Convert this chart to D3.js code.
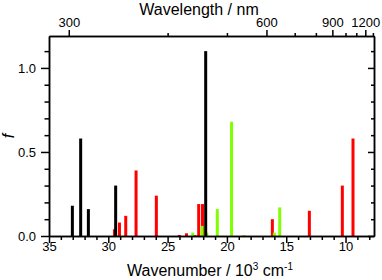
<!DOCTYPE html>
<html>
<head>
<meta charset="utf-8">
<script src="https://cdn.jsdelivr.net/npm/d3@7"></script>
<style>
  body { margin: 0; background: #fff; }
  svg { display: block; font-family: "Liberation Sans", Arial, sans-serif; }
  .axis path, .axis line { stroke: #000; stroke-width: 1.5; }
  .axis text { font-size: 13px; fill: #000; }
</style>
</head>
<body>
<script>
var width = 382;
var height = 280;

// oscillator strengths, wavenumber in 10^3 cm-1
var blackWn = [33.03, 32.33, 31.68, 29.38, 21.79];
var blackF = [0.18, 0.58, 0.16, 0.30, 1.10];
var redWn = [29.48, 29.06, 28.53, 27.66, 25.95, 24.01, 23.41, 22.69, 22.38, 22.06, 16.17, 13.05, 10.27, 9.37];
var redF = [0.04, 0.08, 0.12, 0.39, 0.24, 0.006, 0.016, 0.005, 0.19, 0.19, 0.10, 0.15, 0.30, 0.58];
var greenWn = [22.88, 22.10, 21.70, 20.81, 19.61, 18.56, 16.00, 15.55];
var greenF = [0.02, 0.06, 0.02, 0.16, 0.68, 0.005, 0.02, 0.17];

var bottomMajor = [35, 30, 25, 20, 15, 10];
var bottomMinor = d3.range(8, 35).filter((d) => d % 5 !== 0);
var topMajor = [300, 600, 900, 1200];
var topMinor = [400, 500, 700, 800, 1000, 1100, 1300];
var leftMajor = [0, 0.5, 1.0];
var leftMinor = [0.1, 0.2, 0.3, 0.4, 0.6, 0.7, 0.8, 0.9, 1.1];

var margin = {left: 49, right: 8, top: 36, bottom: 44};

var svg = d3.select("body")
    .append("svg")
    .attr("width", width)
    .attr("height", height);

var x = d3.scaleLinear().domain([35, 7.6]).range([margin.left, width - margin.right]);
var y = d3.scaleLinear().domain([0, 1.19]).range([height - margin.bottom, margin.top]);

// nm -> 10^3 cm-1
function nmToWn(nm) { return 1e4 / nm; }

function drawBars(wn, f, colour) {
    var data = wn.map((d, i) => ({wn: d, f: f[i]}));
    svg.append("g").selectAll("rect")
        .data(data)
        .enter().append("rect")
        .attr("x", (d) => x(d.wn) - 1.5)
        .attr("width", 3)
        .attr("y", (d) => y(d.f))
        .attr("height", (d) => y(0) - y(d.f))
        .attr("fill", colour);
}

drawBars(redWn, redF, "#ff0000");
drawBars(greenWn, greenF, "#80ff00");
drawBars(blackWn, blackF, "#000000");

var x0 = y(0);
var y0 = y.range()[1];

// bottom axis
svg.append("g").attr("class", "axis").attr("transform", `translate(0,${x0})`)
    .call(d3.axisBottom(x).tickValues(bottomMinor).tickSize(4).tickSizeOuter(0).tickFormat(""));
svg.append("g").attr("class", "axis").attr("transform", `translate(0,${x0})`)
    .call(d3.axisBottom(x).tickValues(bottomMajor).tickSize(7).tickPadding(-1.5).tickSizeOuter(0));

// top axis (wavelength)
svg.append("g").attr("class", "axis").attr("transform", `translate(0,${y0})`)
    .call(d3.axisTop(x).tickValues(topMinor.map(nmToWn)).tickSize(3).tickSizeOuter(0).tickFormat(""));
svg.append("g").attr("class", "axis").attr("transform", `translate(0,${y0})`)
    .call(d3.axisTop(x).tickValues(topMajor.map(nmToWn)).tickSize(6).tickPadding(3).tickSizeOuter(0)
        .tickFormat((d) => Math.round(1e4 / d)));

// left axis
svg.append("g").attr("class", "axis").attr("transform", `translate(${margin.left},0)`)
    .call(d3.axisLeft(y).tickValues(leftMinor).tickSize(4.5).tickSizeOuter(0).tickFormat(""));
svg.append("g").attr("class", "axis").attr("transform", `translate(${margin.left},0)`)
    .call(d3.axisLeft(y).tickValues(leftMajor).tickSize(8).tickPadding(5).tickSizeOuter(0).tickFormat(d3.format(".1f")));

// right axis, ticks inside
var xr = width - margin.right;
svg.append("g").attr("class", "axis").attr("transform", `translate(${xr},0)`)
    .call(d3.axisRight(y).tickValues(leftMinor).tickSize(-3).tickSizeOuter(0).tickFormat(""));
svg.append("g").attr("class", "axis").attr("transform", `translate(${xr},0)`)
    .call(d3.axisRight(y).tickValues(leftMajor).tickSize(-6).tickSizeOuter(0).tickFormat(""));

// titles
svg.append("text")
    .attr("x", 199).attr("y", 14.5)
    .attr("text-anchor", "middle")
    .style("font-size", "16px")
    .text("Wavelength / nm");

var bt = svg.append("text")
    .attr("x", 210).attr("y", 276)
    .attr("text-anchor", "middle")
    .style("font-size", "16px");
bt.append("tspan").text("Wavenumber / 10");
bt.append("tspan").attr("dy", -6).style("font-size", "10px").text("3");
bt.append("tspan").attr("dy", 6).text(" cm");
bt.append("tspan").attr("dy", -6).style("font-size", "10px").text("-1");

svg.append("text")
    .attr("transform", "translate(14,136) rotate(-90)")
    .attr("text-anchor", "middle")
    .style("font-size", "16px")
    .style("font-style", "italic")
    .text("f");
</script>
</body>
</html>
